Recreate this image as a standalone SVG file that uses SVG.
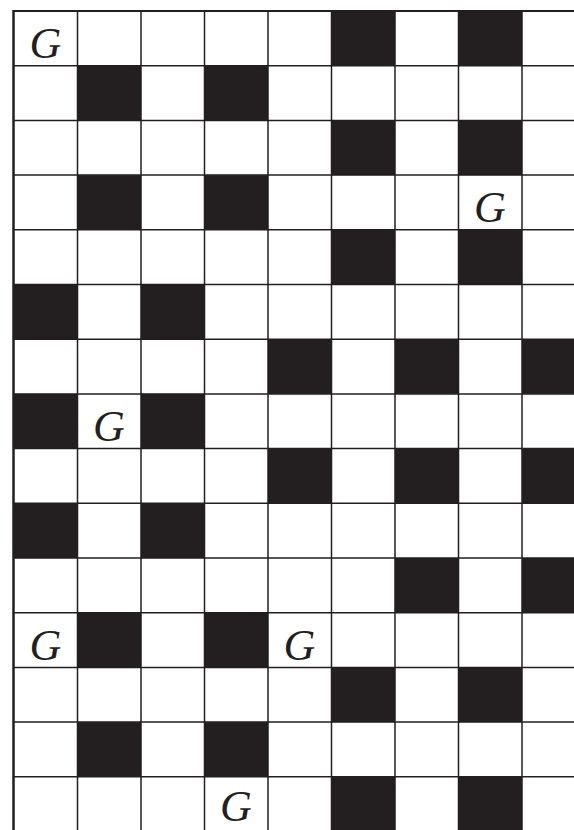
<svg xmlns="http://www.w3.org/2000/svg" width="574" height="830" viewBox="0 0 574 830">
<style>
.b{fill:#231f20}
.g{font-family:"Liberation Serif","DejaVu Serif",serif;font-style:italic;font-size:44px;fill:#231f20;text-anchor:middle}
.l{stroke:#231f20;stroke-width:1.5;fill:none}
</style>
<rect width="574" height="830" fill="#fff"/>
<g id="cells">
<rect class="b" x="331.5" y="11" width="63.5" height="54.7"/>
<rect class="b" x="458.5" y="11" width="63.5" height="54.7"/>
<rect class="b" x="77.5" y="65.7" width="63.5" height="54.7"/>
<rect class="b" x="204.5" y="65.7" width="63.5" height="54.7"/>
<rect class="b" x="331.5" y="120.4" width="63.5" height="54.7"/>
<rect class="b" x="458.5" y="120.4" width="63.5" height="54.7"/>
<rect class="b" x="77.5" y="175.1" width="63.5" height="54.7"/>
<rect class="b" x="204.5" y="175.1" width="63.5" height="54.7"/>
<rect class="b" x="331.5" y="229.8" width="63.5" height="54.7"/>
<rect class="b" x="458.5" y="229.8" width="63.5" height="54.7"/>
<rect class="b" x="14" y="284.5" width="63.5" height="54.7"/>
<rect class="b" x="141" y="284.5" width="63.5" height="54.7"/>
<rect class="b" x="268" y="339.2" width="63.5" height="54.7"/>
<rect class="b" x="395" y="339.2" width="63.5" height="54.7"/>
<rect class="b" x="522" y="339.2" width="63.5" height="54.7"/>
<rect class="b" x="14" y="393.9" width="63.5" height="54.7"/>
<rect class="b" x="141" y="393.9" width="63.5" height="54.7"/>
<rect class="b" x="268" y="448.6" width="63.5" height="54.7"/>
<rect class="b" x="395" y="448.6" width="63.5" height="54.7"/>
<rect class="b" x="522" y="448.6" width="63.5" height="54.7"/>
<rect class="b" x="14" y="503.3" width="63.5" height="54.7"/>
<rect class="b" x="141" y="503.3" width="63.5" height="54.7"/>
<rect class="b" x="395" y="558" width="63.5" height="54.7"/>
<rect class="b" x="522" y="558" width="63.5" height="54.7"/>
<rect class="b" x="77.5" y="612.7" width="63.5" height="54.7"/>
<rect class="b" x="204.5" y="612.7" width="63.5" height="54.7"/>
<rect class="b" x="331.5" y="667.4" width="63.5" height="54.7"/>
<rect class="b" x="458.5" y="667.4" width="63.5" height="54.7"/>
<rect class="b" x="77.5" y="722.1" width="63.5" height="54.7"/>
<rect class="b" x="204.5" y="722.1" width="63.5" height="54.7"/>
<rect class="b" x="331.5" y="776.8" width="63.5" height="54.7"/>
<rect class="b" x="458.5" y="776.8" width="63.5" height="54.7"/>
</g>
<g id="grid">
<path class="l" d="M77.5 11V830M141 11V830M204.5 11V830M268 11V830M331.5 11V830M395 11V830M458.5 11V830M522 11V830"/>
<path class="l" d="M14 65.7H574M14 120.4H574M14 175.1H574M14 229.8H574M14 284.5H574M14 339.2H574M14 393.9H574M14 448.6H574M14 503.3H574M14 558H574M14 612.7H574M14 667.4H574M14 722.1H574M14 776.8H574"/>
<path d="M13 11H574" stroke="#231f20" stroke-width="2.2"/>
<path d="M13.5 10V830" stroke="#231f20" stroke-width="2.5"/>
</g>
<g id="labels">
<text class="g" x="45.5" y="58">G</text>
<text class="g" x="490" y="222">G</text>
<text class="g" x="109" y="441">G</text>
<text class="g" x="45.5" y="660">G</text>
<text class="g" x="299.5" y="660">G</text>
<text class="g" x="236" y="821">G</text>
</g>
</svg>
